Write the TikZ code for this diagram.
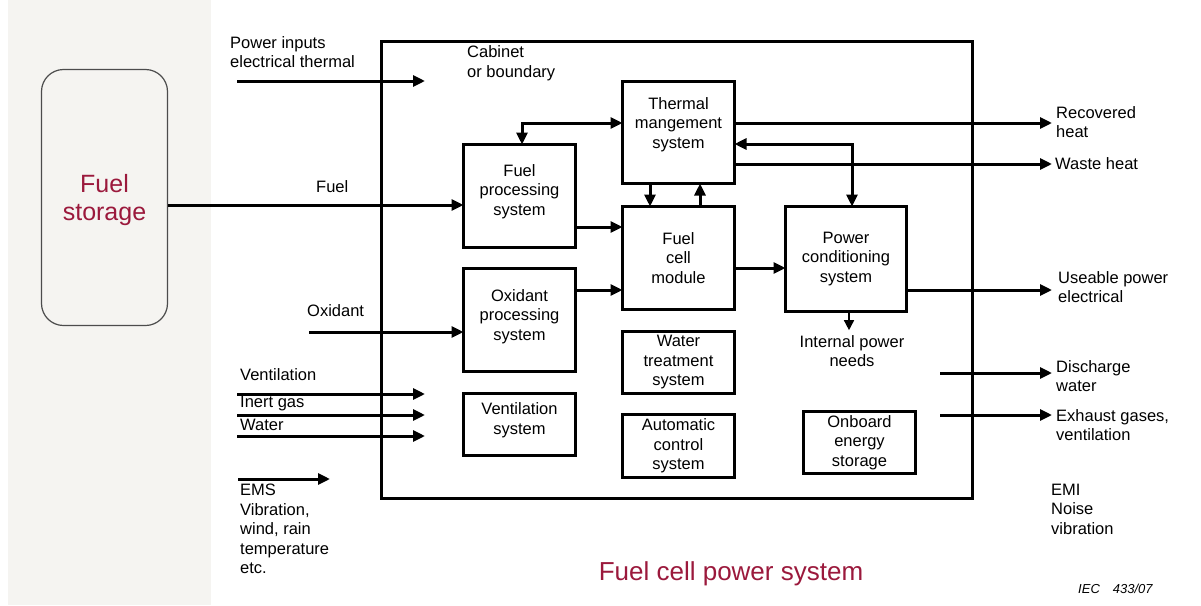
\documentclass[tikz,border=0pt]{standalone}
\usepackage{fontspec}
\setmainfont{Liberation Sans}
\usetikzlibrary{arrows.meta}
\definecolor{darkred}{RGB}{155,25,60}
\definecolor{panel}{RGB}{245,244,241}
\tikzset{
  box/.style={draw, line width=3pt, minimum width=112pt, align=center, inner sep=0pt, outer sep=0pt,
    font=\fontsize{16.5}{19.5}\selectfont},
  lbl/.style={inner sep=0pt, align=left, anchor=west, font=\fontsize{16.5}{19.5}\selectfont},
  arr/.style={line width=3pt, -{Triangle[length=12pt,width=11pt]}},
  dbl/.style={line width=3pt, {Triangle[length=12pt,width=11pt]}-{Triangle[length=12pt,width=11pt]}},
}
\begin{document}
\begin{tikzpicture}[x=1pt,y=-1pt]
\useasboundingbox (0,0) rectangle (1201,605);
\fill[white] (0,0) rectangle (1201,605);
\fill[panel] (8,0) rectangle (211,605);

% fuel storage
\node[draw=black!70, line width=1.2pt, rounded corners=22pt, minimum width=126pt, minimum height=256pt,
  align=center, text=darkred, font=\fontsize{25}{28}\selectfont, fill=panel, text depth=0pt] (storage) at (104.5,197.5) {Fuel\\storage};

% cabinet
\node[draw, line width=3pt, minimum width=591pt, minimum height=457pt, inner sep=0pt] (cab) at (676.5,269.5) {};

% boxes
\node[box, minimum height=102pt, text depth=19pt] (tm) at (678.5,132.5) {Thermal\\mangement\\system};
\node[box, minimum height=103pt, text depth=12pt] (fp) at (519.5,196) {Fuel\\processing\\system};
\node[box, minimum height=103pt] (fc) at (678.5,258) {Fuel\\cell\\module};
\node[box, minimum width=121pt, minimum height=105pt] (pc) at (846,259) {Power\\conditioning\\system};
\node[box, minimum height=103pt, text depth=10pt] (op) at (519.5,320) {Oxidant\\processing\\system};
\node[box, minimum height=62pt, text depth=12pt] (vs) at (519.5,424.5) {Ventilation\\system};
\node[box, minimum height=62pt] (wt) at (678.5,362.5) {Water\\treatment\\system};
\node[box, minimum height=63pt] (ac) at (678.5,446) {Automatic\\control\\system};
\node[box, minimum height=62pt] (oe) at (859.5,442.5) {Onboard\\energy\\storage};

% labels
\node[lbl] (pin) at (230,52) {Power inputs\\electrical thermal};
\node[lbl] (cabl) at (467,63) {Cabinet\\or boundary};
\node[lbl] (fuell) at (316,187) {Fuel};
\node[lbl] (oxl) at (307,311) {Oxidant};
\node[lbl] (ventl) at (240,375) {Ventilation};
\node[lbl] (inl) at (240,404) {Inert gas};
\node[lbl] (watl) at (240,425) {Water};
\node[lbl] (emsl) at (240,529) {EMS\\Vibration,\\wind, rain\\temperature\\etc.};
\node[lbl] (rhl) at (1056,122) {Recovered\\heat};
\node[lbl] (whl) at (1055,164) {Waste heat};
\node[lbl] (upl) at (1058,287) {Useable power\\electrical};
\node[lbl, align=center, anchor=center, outer sep=5pt] (ipn) at (852,351) {Internal power\\needs};
\node[lbl] (dwl) at (1056,376) {Discharge\\water};
\node[lbl] (exl) at (1056,425) {Exhaust gases,\\ventilation};
\node[lbl] (emil) at (1051,509) {EMI\\Noise\\vibration};
\node[inner sep=0pt, text=darkred, font=\fontsize{26}{30}\selectfont] (title) at (731,574) {Fuel cell power system};
\node[inner sep=0pt, font=\fontsize{13}{15}\selectfont\itshape, anchor=west] (iec) at (1078,589) {IEC\quad 433/07};

% free-end coordinates
\coordinate (pinS) at (237,81);   \coordinate (pinE) at (425,81);
\coordinate (vS) at (237,394);    \coordinate (vE) at (425,394);
\coordinate (iS) at (237,415);    \coordinate (iE) at (425,415);
\coordinate (wS) at (237,436);    \coordinate (wE) at (425,436);
\coordinate (eS) at (238,479);    \coordinate (eE) at (330,479);
\coordinate (oxS) at (309,332);
\coordinate (rhE) at (1052,123);
\coordinate (whE) at (1052,164);
\coordinate (upE) at (1052,290);
\coordinate (dwS) at (940,373);   \coordinate (dwE) at (1052,373);
\coordinate (exS) at (940,415);   \coordinate (exE) at (1052,415);

% connectors
\draw[arr] (pinS) -- (pinE);
\draw[arr] (vS) -- (vE);
\draw[arr] (iS) -- (iE);
\draw[arr] (wS) -- (wE);
\draw[arr] (eS) -- (eE);
\draw[arr] (storage.east |- 0,205) -- (fp.west |- 0,205);
\draw[arr] (oxS) -- (op.west |- oxS);
\draw[dbl] (fp.north -| 522,0) |- (tm.west |- 0,123);
\draw[arr] (tm.south -| 650,0) -- (fc.north -| 650,0);
\draw[arr] (fc.north -| 700,0) -- (tm.south -| 700,0);
\draw[arr] (fp.east |- 0,227) -- (fc.west |- 0,227);
\draw[arr] (op.east |- 0,290) -- (fc.west |- 0,290);
\draw[arr] (fc.east |- 0,268) -- (pc.west |- 0,268);
\draw[arr] (tm.east |- rhE) -- (rhE);
\draw[dbl] (tm.east |- 0,144) -| (pc.north -| 852,0);
\draw[arr] (tm.east |- whE) -- (whE);
\draw[arr] (pc.east |- upE) -- (upE);
\draw[line width=1.5pt, -{Triangle[length=10pt,width=10pt]}] (pc.south -| 849,0) -- (ipn.north -| 849,0);
\draw[arr] (dwS) -- (dwE);
\draw[arr] (exS) -- (exE);
\end{tikzpicture}
\end{document}
